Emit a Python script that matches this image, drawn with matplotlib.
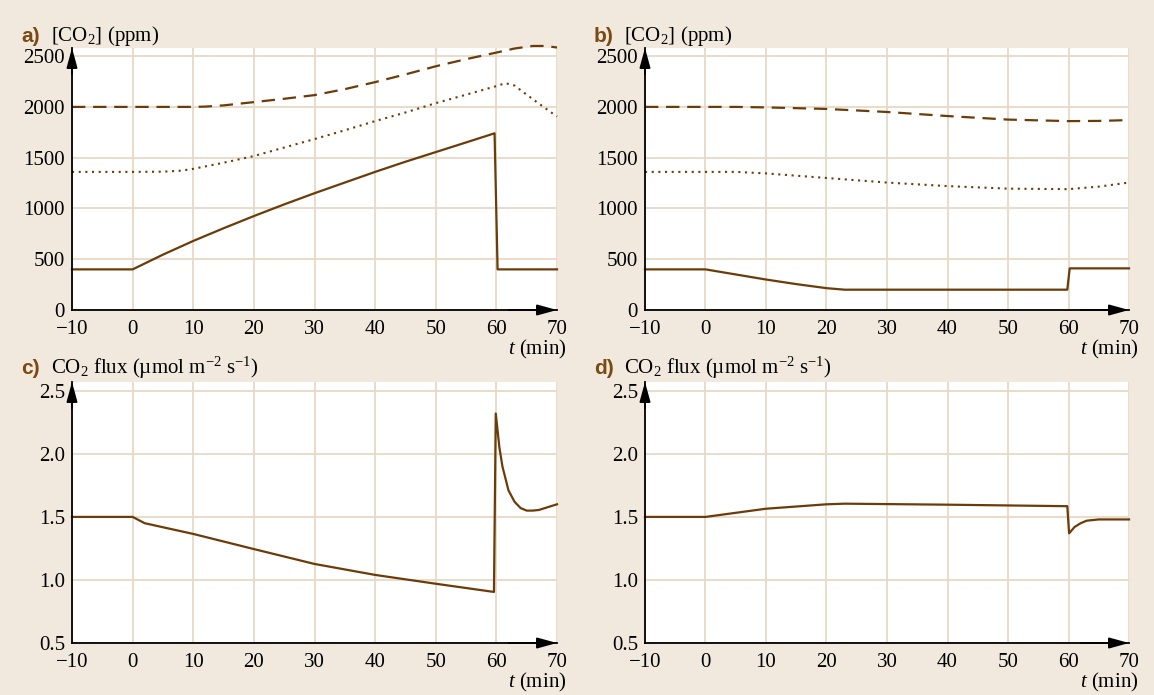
import numpy as np
from matplotlib import pyplot as plt

# panel a: [CO2] (ppm)
ta_solid = [-10, 0, 5, 10, 15, 20, 25, 30, 35, 40, 45, 50, 55, 59.7, 60.2, 70]
ca_solid = [400, 400, 545, 680, 805, 925, 1040, 1150, 1255, 1360, 1460, 1555, 1650, 1740, 400, 400]
ta_dash = [-10, 0, 10, 12, 15, 20, 25, 30, 35, 40, 45, 50, 55, 60, 63, 66, 68, 70]
ca_dash = [2000, 2000, 2000, 2003, 2015, 2047, 2080, 2116, 2175, 2244, 2320, 2400, 2470, 2535, 2575, 2600, 2600, 2585]
ta_dot = [-10, 0, 5, 8, 10, 15, 20, 25, 30, 35, 40, 45, 50, 55, 60, 61.5, 63, 65, 68, 70]
ca_dot = [1360, 1360, 1362, 1372, 1390, 1450, 1516, 1600, 1683, 1770, 1860, 1945, 2037, 2120, 2205, 2234, 2210, 2120, 1990, 1905]

# panel b: [CO2] (ppm)
tb_solid = [-10, 0, 5, 10, 15, 20, 23, 59.8, 60.2, 70]
cb_solid = [400, 400, 350, 300, 255, 215, 200, 200, 410, 410]
tb_dash = [-10, 0, 5, 10, 20, 30, 40, 50, 60, 65, 70]
cb_dash = [2000, 2000, 2000, 1995, 1980, 1950, 1910, 1875, 1860, 1862, 1870]
tb_dot = [-10, 0, 5, 10, 20, 30, 40, 50, 60, 65, 70]
cb_dot = [1360, 1360, 1360, 1345, 1300, 1255, 1220, 1195, 1190, 1215, 1255]

# panel c: CO2 flux
tc = [-10, 0, 2, 10, 20, 30, 40, 50, 59.6, 59.9, 60.5, 61, 62, 63, 64, 65, 66, 67, 68, 70]
fc = [1.5, 1.5, 1.45, 1.365, 1.245, 1.127, 1.04, 0.97, 0.905, 2.32, 2.05, 1.9, 1.71, 1.62, 1.57, 1.55, 1.55, 1.555, 1.57, 1.60]

# panel d: CO2 flux
td = [-10, 0, 10, 20, 23, 40, 59.8, 60.1, 61, 62, 63, 65, 70]
fd = [1.5, 1.5, 1.565, 1.6, 1.605, 1.597, 1.585, 1.37, 1.42, 1.45, 1.47, 1.48, 1.48]

xticks = [-10, 0, 10, 20, 30, 40, 50, 60, 70]
yticks_c = [0, 500, 1000, 1500, 2000, 2500]
yticks_f = [0.5, 1.0, 1.5, 2.0, 2.5]

bg = '#f2e9de'
grid_c = '#e8d9c6'
line_c = '#6b3c08'
lab_c = '#7a4a12'

plt.rcParams['font.family'] = ['Liberation Serif', 'DejaVu Serif']
plt.rcParams['mathtext.fontset'] = 'custom'
plt.rcParams['mathtext.rm'] = 'Liberation Serif'
plt.rcParams['mathtext.it'] = 'Liberation Serif:italic'
plt.rcParams['font.size'] = 15

fig = plt.figure(figsize=(11.54, 6.95), dpi=100, facecolor=bg)

W = 1154.0
H = 695.0


def make_ax(left, right, top, bottom):
    return fig.add_axes([left / W, 1 - bottom / H, (right - left) / W, (bottom - top) / H])


def style(ax, yticks, ylim):
    ax.set_facecolor('white')
    ax.set_xlim(-10, 70)
    ax.set_ylim(*ylim)
    ax.set_xticks(xticks)
    ax.set_yticks(yticks)
    ax.grid(True, color=grid_c, lw=1.3)
    ax.set_axisbelow(True)
    for s in ['top', 'right']:
        ax.spines[s].set_visible(False)
    for s in ['left', 'bottom']:
        ax.spines[s].set_color('black')
        ax.spines[s].set_linewidth(1.3)
        ax.spines[s].set_zorder(5)
    ax.tick_params(length=0, labelsize=15)
    ax.tick_params(axis='y', pad=5)
    ax.tick_params(axis='x', pad=7.5)
    # arrows on axes
    ax.annotate('', xy=(0, 1.0), xytext=(0, 0.9), xycoords='axes fraction',
                arrowprops=dict(arrowstyle='-|>,head_length=0.8,head_width=0.22', color='k', lw=1.3, shrinkA=0, shrinkB=0))
    ax.annotate('', xy=(1.0, 0), xytext=(0.9, 0), xycoords='axes fraction',
                arrowprops=dict(arrowstyle='-|>,head_length=0.8,head_width=0.22', color='k', lw=1.3, shrinkA=0, shrinkB=0))
    ax.text(1.02, -0.15, '$t$ (min)', transform=ax.transAxes, ha='right', va='center', fontsize=15)


def panel_label(x, y, letter, text):
    fig.text(x / W, 1 - y / H, letter, color=lab_c, fontsize=15, fontweight='bold',
             family='Liberation Sans', ha='left', va='center')
    fig.text((x + 30) / W, 1 - y / H, text, fontsize=15, ha='left', va='center')


ax_a = make_ax(72, 557, 48, 310)
ax_b = make_ax(645, 1129, 48, 310)
ax_c = make_ax(72, 557, 382, 643)
ax_d = make_ax(645, 1129, 382, 643)

for ax in [ax_a, ax_b]:
    style(ax, yticks_c, (0, 2580))
for ax in [ax_c, ax_d]:
    style(ax, yticks_f, (0.5, 2.57))

ax_a.plot(ta_solid, ca_solid, color=line_c, lw=1.6, clip_on=False, zorder=4)
ax_a.plot(ta_dash, ca_dash, color=line_c, lw=1.6, ls=(0, (6, 3.5)), clip_on=False, zorder=4)
ax_a.plot(ta_dot, ca_dot, color=line_c, lw=1.5, ls=(0, (1, 2.2)), clip_on=False, zorder=4)

ax_b.plot(tb_solid, cb_solid, color=line_c, lw=1.6, clip_on=False, zorder=4)
ax_b.plot(tb_dash, cb_dash, color=line_c, lw=1.6, ls=(0, (6, 3.5)), clip_on=False, zorder=4)
ax_b.plot(tb_dot, cb_dot, color=line_c, lw=1.5, ls=(0, (1, 2.2)), clip_on=False, zorder=4)

ax_c.plot(tc, fc, color=line_c, lw=1.6, clip_on=False, zorder=4)
ax_d.plot(td, fd, color=line_c, lw=1.6, clip_on=False, zorder=4)

panel_label(21, 36, 'a)', '[CO$_2$] (ppm)')
panel_label(594, 36, 'b)', '[CO$_2$] (ppm)')
panel_label(21, 368, 'c)', 'CO$_2$ flux (µmol m$^{-2}$ s$^{-1}$)')
panel_label(594, 368, 'd)', 'CO$_2$ flux (µmol m$^{-2}$ s$^{-1}$)')

plt.savefig('out.png', dpi=100, facecolor=bg)
